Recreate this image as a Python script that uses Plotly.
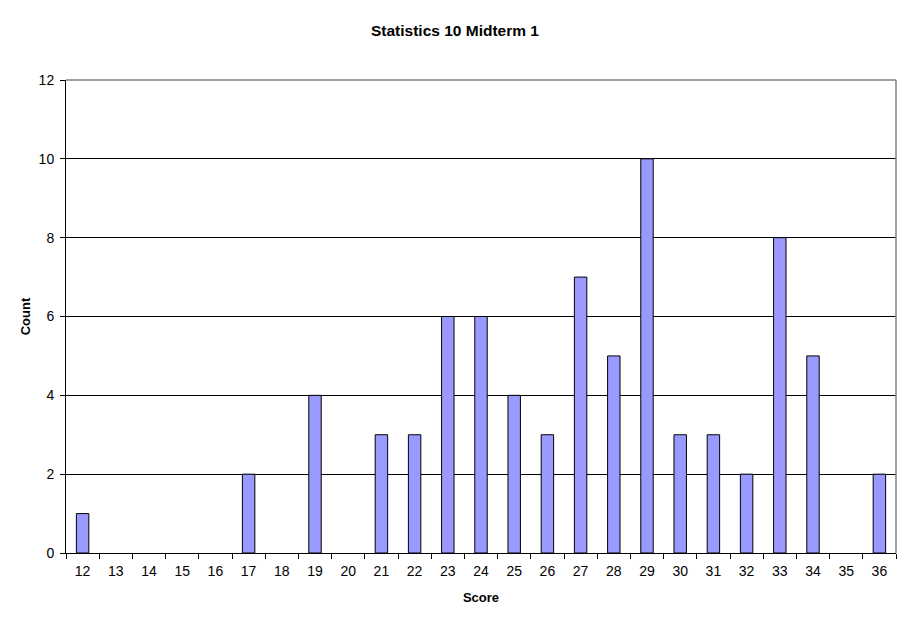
import plotly.graph_objects as go

scores = [str(s) for s in range(12, 37)]
counts = [1, 0, 0, 0, 0, 2, 0, 4, 0, 3, 3, 6, 6, 4, 3, 7, 5, 10, 3, 3, 2, 8, 5, 0, 2]

# zero-count bars are not drawn (no outline stub on the axis)
shown = [c if c > 0 else None for c in counts]

fig = go.Figure(go.Bar(
    x=scores, y=shown, width=0.375,
    marker=dict(color="#9999ff", line=dict(color="black", width=1)),
))

fnt = "Liberation Sans, Arial, sans-serif"
# page body has an 8px margin, so the figure is 903x615 placed at (8, 8)
fig.update_layout(
    width=903, height=615,
    margin=dict(l=58, r=15, t=72, b=70, autoexpand=False),
    paper_bgcolor="white", plot_bgcolor="white",
    font=dict(family=fnt, size=13, color="black"),
    title=dict(text="<b>Statistics 10 Midterm 1</b>", x=(455 - 8) / 903, xanchor="center",
               y=1 - 23 / 615, yanchor="middle", font=dict(size=15.5)),
    showlegend=False,
    bargap=0.625,
    xaxis=dict(type="category", tickson="boundaries", ticks="outside", ticklen=5,
               tickcolor="black", showline=True, linecolor="black", linewidth=1,
               showgrid=False, automargin=False, ticklabelstandoff=5,
               title=dict(text="<b>Score</b>", standoff=15, font=dict(size=13)),
               tickfont=dict(size=14), range=[-0.5, 24.5]),
    yaxis=dict(range=[0, 12], dtick=2, ticks="outside", ticklen=5, tickcolor="black",
               showline=True, linecolor="black", linewidth=1, automargin=False,
               ticklabelstandoff=3,
               showgrid=True, gridcolor="black", gridwidth=1, zeroline=False,
               title=dict(text="<b>Count</b>", standoff=5, font=dict(size=13)),
               tickfont=dict(size=14)),
    shapes=[
        dict(type="line", xref="paper", yref="paper", x0=0, x1=1, y0=1, y1=1,
             line=dict(color="#808080", width=1.5), layer="above"),
        dict(type="line", xref="paper", yref="paper", x0=1, x1=1, y0=0, y1=1,
             line=dict(color="#808080", width=1.5), layer="above"),
    ],
)

fig.write_html("out.html")
